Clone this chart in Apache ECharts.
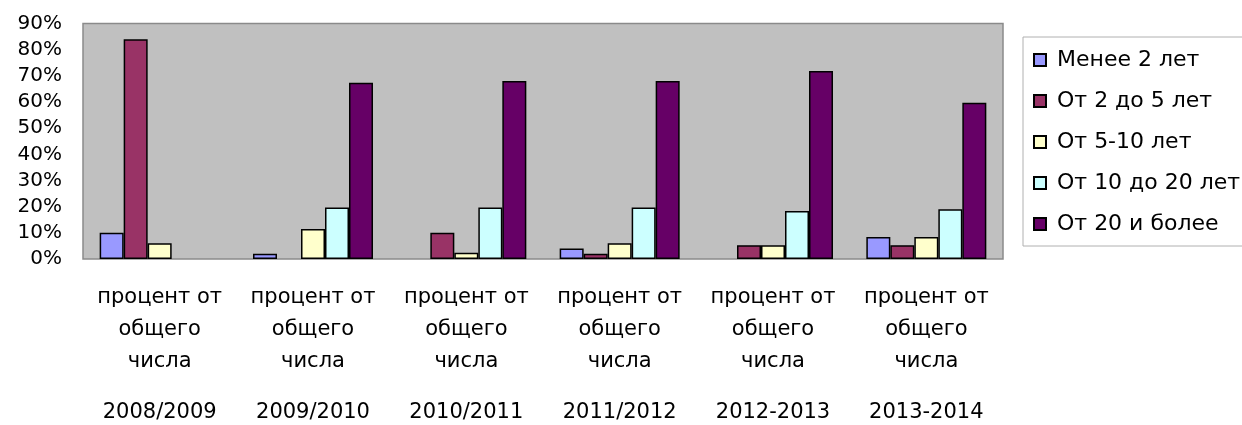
<!DOCTYPE html>
<html><head><meta charset="utf-8">
<script src="https://cdn.jsdelivr.net/npm/echarts@6/dist/echarts.min.js"></script>
<style>html,body{margin:0;padding:0;background:#fff}#c{width:1242px;height:425px}</style>
</head><body><div id="c"></div>
<script>
var categories = ['2008/2009','2009/2010','2010/2011','2011/2012','2012-2013','2013-2014'];
var labelPrefix = ['процент от','общего','числа'];
var seriesNames = ['Менее 2 лет','От 2 до 5 лет','От 5-10 лет','От 10 до 20 лет','От 20 и более'];
var lessThan2 = [10, 2, null, 4, null, 8.4];
var from2to5 = [84, null, 10, 2, 5.3, 5.3];
var from5to10 = [6, 11.5, 2.4, 6, 5.3, 8.4];
var from10to20 = [null, 19.7, 19.7, 19.7, 18.3, 19];
var from20 = [null, 67.4, 68, 68, 71.8, 59.7];
var yTicks = [0,10,20,30,40,50,60,70,80,90];
var colors = ['#9999FF','#993366','#FFFFCC','#CCFFFF','#660066'];
var allData = [lessThan2, from2to5, from5to10, from10to20, from20];
var font = '"DejaVu Sans", sans-serif';
var chart = echarts.init(document.getElementById('c'), null, {renderer:'canvas'});
chart.setOption({
  animation:false,
  backgroundColor:'#fff',
  grid:{left:83,right:239,top:23.5,bottom:166,show:true,backgroundColor:'#C0C0C0',borderColor:'#8a8a8a',borderWidth:1.5},
  legend:{
    orient:'vertical',left:1023,top:37,
    padding:[12,30,11,10],itemGap:19,itemWidth:12,itemHeight:12,
    borderColor:'#b0b0b0',borderWidth:1,
    icon:'rect',
    textStyle:{fontFamily:font,fontSize:22,color:'#000',padding:[0,0,0,6]},
    data:seriesNames
  },
  xAxis:{
    type:'category',data:categories,
    axisLine:{show:false},axisTick:{show:false},
    axisLabel:{
      margin:23,interval:0,
      formatter:function(v){return '{a|'+labelPrefix[0]+'}\n{a|'+labelPrefix[1]+'}\n{a|'+labelPrefix[2]+'}\n{y|'+v+'}';},
      rich:{
        a:{fontFamily:font,fontSize:21,color:'#000',lineHeight:32},
        y:{fontFamily:font,fontSize:21,color:'#000',lineHeight:70}
      }
    }
  },
  yAxis:{
    type:'value',min:0,max:90,interval:10,
    splitLine:{show:false},axisLine:{show:false},axisTick:{show:false},
    axisLabel:{margin:21,fontFamily:font,fontSize:20,color:'#000',
      formatter:function(v){return yTicks.indexOf(v)>=0? v+'%':'';}}
  },
  series:seriesNames.map(function(n,i){
    return {name:n,type:'bar',data:allData[i],barWidth:24,barGap:'0%',
      itemStyle:{color:colors[i],borderColor:'#000',borderWidth:1.5}};
  })
});
</script></body></html>
